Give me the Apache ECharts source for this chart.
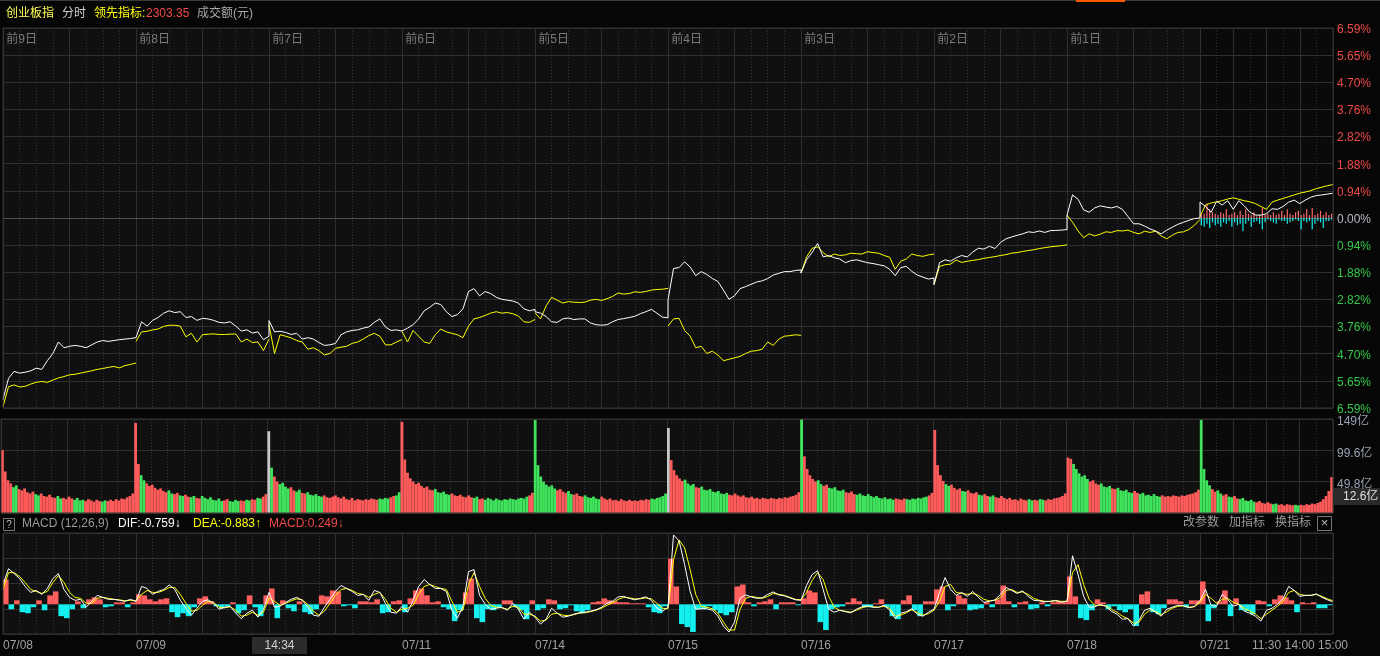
<!DOCTYPE html>
<html>
<head>
<meta charset="utf-8">
<script src="https://cdn.jsdelivr.net/npm/echarts@6.0.0/dist/echarts.min.js"></script>
<style>
html,body{margin:0;padding:0;background:#060606;overflow:hidden;}
#chart{width:1380px;height:656px;}
</style>
</head>
<body>
<div id="chart"></div>
<script>
// ---------------- data ----------------
const dates = ['07/08','07/09','07/10','07/11','07/14','07/15','07/16','07/17','07/18','07/21'];
const dayTags = ['前9日','前8日','前7日','前6日','前5日','前4日','前3日','前2日','前1日',''];
const pctTicks = ['6.59%','5.65%','4.70%','3.76%','2.82%','1.88%','0.94%','0.00%','0.94%','1.88%','2.82%','3.76%','4.70%','5.65%','6.59%'];
const volTicks = ['','49.8亿','99.6亿','149亿'];
const timeTicks = ['11:30','14:00','15:00'];

// index change % (white), one value every 10 minutes, 25 per day
const priceLine = [
[-6.3,-5.56,-5.32,-5.38,-5.35,-5.3,-5.21,-5.25,-4.95,-4.7,-4.3,-4.5,-4.45,-4.42,-4.45,-4.5,-4.4,-4.3,-4.25,-4.28,-4.25,-4.22,-4.2,-4.18,-4.15],
[-4.2,-3.6,-3.75,-3.55,-3.45,-3.3,-3.22,-3.28,-3.25,-3.45,-3.42,-3.55,-3.48,-3.5,-3.55,-3.62,-3.64,-3.6,-3.75,-3.92,-3.88,-3.99,-3.95,-4.22,-4.1],
[-3.56,-3.95,-3.93,-3.97,-4.04,-4.0,-4.2,-4.15,-4.2,-4.32,-4.42,-4.4,-4.35,-4.05,-3.95,-3.9,-3.88,-3.82,-3.78,-3.62,-3.5,-3.78,-3.9,-3.88,-3.92],
[-3.93,-3.82,-3.7,-3.5,-3.22,-3.1,-2.95,-3.0,-3.25,-3.42,-3.35,-3.15,-2.55,-2.45,-2.7,-2.55,-2.62,-2.75,-2.82,-2.85,-2.88,-2.95,-3.15,-3.22,-3.17],
[-3.25,-3.3,-3.42,-3.6,-3.62,-3.5,-3.47,-3.52,-3.5,-3.5,-3.64,-3.7,-3.72,-3.7,-3.6,-3.52,-3.49,-3.45,-3.41,-3.32,-3.25,-3.17,-3.3,-3.44,-3.46],
[-2.84,-1.75,-1.72,-1.52,-1.7,-2.0,-1.86,-1.96,-2.1,-2.2,-2.5,-2.82,-2.7,-2.45,-2.38,-2.3,-2.22,-2.18,-2.1,-1.98,-1.92,-1.86,-1.86,-1.82,-1.8],
[-1.91,-1.45,-1.2,-0.88,-1.35,-1.3,-1.38,-1.42,-1.55,-1.48,-1.45,-1.5,-1.55,-1.58,-1.62,-1.66,-1.78,-2.0,-1.72,-1.68,-1.85,-1.98,-2.05,-2.12,-2.08],
[-2.31,-1.55,-1.45,-1.5,-1.38,-1.3,-1.35,-1.18,-1.05,-1.08,-0.98,-1.06,-0.85,-0.72,-0.66,-0.6,-0.55,-0.48,-0.5,-0.45,-0.5,-0.44,-0.43,-0.42,-0.4],
[0.1,0.8,0.65,0.28,0.2,0.35,0.42,0.38,0.35,0.4,0.3,0.05,-0.2,-0.2,-0.28,-0.38,-0.45,-0.55,-0.42,-0.32,-0.22,-0.15,-0.08,-0.02,0.0],
[0.55,0.4,0.2,0.58,0.45,0.6,0.3,0.6,0.42,0.2,0.1,0.1,0.15,0.32,0.3,0.4,0.55,0.62,0.5,0.62,0.72,0.78,0.8,0.83,0.86]
];

// leading indicator % (yellow), 25 per day
const leadLine = [
[-6.54,-5.85,-5.79,-5.86,-5.84,-5.76,-5.7,-5.67,-5.7,-5.62,-5.55,-5.5,-5.44,-5.42,-5.38,-5.34,-5.3,-5.25,-5.22,-5.18,-5.15,-5.2,-5.12,-5.08,-5.03],
[-4.28,-3.95,-3.93,-3.88,-3.85,-3.76,-3.72,-3.72,-3.75,-4.12,-4.0,-4.3,-4.05,-4.03,-4.02,-4.04,-4.04,-4.03,-4.02,-4.3,-4.2,-4.32,-4.3,-4.6,-4.2],
[-3.7,-4.7,-4.05,-4.1,-4.16,-4.25,-4.3,-4.55,-4.5,-4.6,-4.75,-4.7,-4.52,-4.48,-4.45,-4.35,-4.3,-4.2,-4.08,-4.0,-4.1,-4.4,-4.4,-4.3,-4.22],
[-3.93,-4.3,-3.9,-4.1,-4.3,-4.35,-4.05,-3.85,-3.95,-4.0,-4.05,-4.15,-3.75,-3.5,-3.45,-3.38,-3.3,-3.25,-3.3,-3.28,-3.32,-3.4,-3.6,-3.62,-3.52],
[-3.29,-3.5,-3.05,-2.75,-2.85,-2.95,-2.9,-2.92,-2.93,-2.92,-2.85,-2.82,-2.86,-2.8,-2.72,-2.6,-2.64,-2.62,-2.56,-2.58,-2.55,-2.5,-2.48,-2.47,-2.44],
[-3.75,-3.5,-3.48,-3.9,-4.1,-4.5,-4.45,-4.7,-4.62,-4.75,-4.95,-4.9,-4.85,-4.8,-4.7,-4.62,-4.6,-4.55,-4.3,-4.42,-4.2,-4.1,-4.08,-4.05,-4.07],
[-1.91,-1.35,-1.05,-1.0,-1.2,-1.35,-1.25,-1.3,-1.28,-1.22,-1.24,-1.25,-1.17,-1.2,-1.22,-1.3,-1.36,-1.78,-1.5,-1.42,-1.25,-1.3,-1.33,-1.28,-1.25],
[-2.31,-1.68,-1.62,-1.6,-1.46,-1.54,-1.5,-1.47,-1.44,-1.4,-1.37,-1.34,-1.3,-1.27,-1.22,-1.2,-1.16,-1.13,-1.1,-1.06,-1.03,-1.0,-0.98,-0.96,-0.93],
[0.1,-0.15,-0.45,-0.68,-0.55,-0.62,-0.56,-0.48,-0.5,-0.44,-0.45,-0.42,-0.5,-0.55,-0.46,-0.5,-0.46,-0.62,-0.72,-0.6,-0.5,-0.48,-0.4,-0.25,-0.05],
[0.05,0.45,0.52,0.56,0.6,0.66,0.7,0.65,0.6,0.56,0.5,0.4,0.3,0.55,0.62,0.68,0.74,0.8,0.86,0.9,0.95,1.02,1.07,1.12,1.16]
];

// last day buy / sell bars (% units), one every 5 minutes
const buyBars = [0.1,0.15,0.5,0.3,0.2,0.15,0.1,0.2,0.15,0.3,0.1,0.15,0.2,0.1,0.25,0.1,0.3,0.15,0.1,0.2,0.05,0.1,0.35,0.1,0.15,0.1,0.2,0.1,0.15,0.25,0.1,0.3,0.15,0.1,0.2,0.25,0.1,0.15,0.3,0.1,0.35,0.1,0.15,0.25,0.1,0.2,0.1,0.15];
const sellBars = [-0.25,-0.3,-0.2,-0.35,-0.15,-0.25,-0.2,-0.3,-0.15,-0.2,-0.1,-0.3,-0.15,-0.25,-0.2,-0.45,-0.2,-0.1,-0.3,-0.15,-0.1,-0.2,-0.4,-0.15,-0.05,-0.1,-0.15,-0.2,-0.05,-0.1,-0.1,-0.2,-0.15,-0.1,-0.05,-0.1,-0.4,-0.1,-0.15,-0.1,-0.4,-0.2,-0.1,-0.15,-0.35,-0.1,-0.1,-0.05];

// turnover (亿), one bar per 5 minutes, 48 per day
const volume = [
[100,66,52,47,41,44,38,36,39,33,31,34,30,28,31,27,26,29,25,24,27,23,24,22,26,23,21,24,20,21,19,22,20,18,21,19,18,20,19,21,19,22,20,23,22,25,27,31],
[143,78,60,52,47,43,45,40,37,39,35,33,36,31,30,32,28,27,29,26,25,27,24,23,27,24,22,25,21,20,23,19,20,22,19,18,21,19,20,19,21,20,22,21,24,23,26,30],
[130,72,58,50,46,48,42,39,41,36,34,37,32,31,33,29,28,30,27,26,28,25,24,26,28,25,23,26,22,21,24,20,22,21,20,22,21,23,22,21,23,22,24,23,25,27,28,33],
[145,85,64,55,50,46,48,43,40,42,37,36,38,33,32,34,30,29,31,28,27,29,26,25,28,25,24,26,22,23,21,24,22,20,23,21,20,22,21,23,22,21,23,24,23,26,28,32],
[148,76,58,50,45,42,44,39,36,38,34,32,35,30,29,31,27,26,28,25,24,26,23,22,26,23,21,23,20,21,19,22,20,19,21,19,20,19,21,20,22,21,23,22,24,25,27,31],
[135,84,68,60,55,51,53,47,44,46,41,40,42,37,36,38,34,33,35,31,30,32,29,28,31,28,26,28,25,24,26,23,24,22,24,23,22,24,23,22,24,23,25,24,26,27,29,33],
[149,90,70,60,54,50,52,46,43,45,40,39,41,36,35,37,33,32,34,30,29,31,28,27,30,27,25,27,24,23,25,22,23,21,23,22,21,23,22,21,23,22,24,23,25,26,28,32],
[132,76,60,51,46,43,45,40,37,39,35,34,36,32,31,33,29,28,30,27,26,28,25,24,27,24,22,24,21,22,20,23,21,20,22,20,21,20,22,21,20,22,21,23,24,25,27,31],
[88,86,78,70,63,58,60,54,50,52,47,45,47,42,41,43,39,38,40,36,35,37,33,32,35,32,30,32,28,29,27,30,27,26,28,26,27,26,28,27,26,28,27,29,30,31,33,37],
[148,70,52,44,38,34,36,31,28,30,26,25,27,23,22,24,20,19,21,18,17,19,16,15,17,15,14,15,13,14,12,14,13,12,13,12,13,12,14,13,15,14,16,18,22,27,35,57]
];
// colour of each day's opening bar: r = up, g = down, w = flat
const openColors = ['r','r','w','r','g','w','g','r','r','g'];

// MACD: DIF (white) and DEA (yellow), 25 per day
const dif = [
[2.0,3.6,3.1,2.6,1.8,1.2,1.4,1.0,1.6,2.6,3.1,1.5,0.7,0.4,0.5,-0.3,0.3,0.9,0.7,0.5,0.5,0.4,0.3,0.5,0.3],
[0.3,1.8,1.6,1.0,1.3,1.5,1.95,1.5,0.4,-0.4,-1.1,-0.4,0.3,0.45,0.1,-0.5,-0.3,-0.2,-0.9,-1.45,-0.9,-0.6,-1.3,-0.5,1.2],
[1.2,-0.3,-0.2,0.2,0.5,0.7,0.4,-0.3,-1.1,-1.2,-0.3,0.5,1.3,1.9,1.6,1.3,0.9,1.0,0.4,1.4,1.2,0.1,-0.8,-0.9,-0.2],
[-0.2,-0.8,0.4,1.8,2.5,2.0,1.6,1.6,1.3,-0.6,-1.4,-0.2,3.3,3.5,0.9,0.0,-0.5,-0.4,-0.3,-0.6,0.1,-0.5,-1.5,-0.8,-1.3],
[-1.3,-2.0,-1.5,-0.4,-0.9,-1.3,-1.2,-1.0,-0.85,-0.8,-0.7,-0.55,-0.3,0.1,0.3,0.75,0.8,0.6,0.45,0.6,0.75,0.4,-0.4,-0.7,-0.3],
[-0.3,7.0,6.4,4.0,1.3,-0.5,-0.45,-0.45,-0.6,-1.2,-2.2,-2.8,-1.8,0.6,0.95,0.75,0.6,0.65,1.0,1.25,0.95,0.85,0.65,0.45,0.4],
[0.4,1.9,3.0,3.4,1.5,-0.5,-0.8,-0.6,-0.75,-0.85,-0.5,-0.25,-0.15,-0.3,-0.3,-0.1,-0.6,-1.45,-0.9,-0.75,-0.45,-1.0,-1.2,-0.8,-0.5],
[-0.5,1.2,2.7,1.5,0.9,1.2,0.8,1.3,0.7,0.2,0.3,0.45,1.0,1.7,1.4,1.1,1.35,0.8,0.4,0.35,0.25,0.3,0.4,0.2,0.3],
[0.3,4.9,3.0,0.8,-0.3,-0.25,0.0,-0.2,-0.7,-1.0,-1.5,-1.45,-2.2,-1.6,-0.6,-0.4,-0.8,-1.2,-0.5,-0.3,-0.1,-0.15,-0.35,-0.2,0.4],
[0.4,1.5,-0.1,-0.2,1.0,0.5,-0.2,0.0,-0.7,-0.9,-1.2,-1.7,-0.6,-0.4,0.0,0.6,1.8,1.4,0.8,0.9,0.9,1.05,0.7,0.45,0.25]
];
const dea = [
[1.5,3.2,3.2,2.8,2.2,1.5,1.3,1.1,1.3,2.2,2.9,2.2,1.2,0.7,0.6,0.1,0.1,0.6,0.7,0.6,0.5,0.45,0.35,0.4,0.35],
[0.35,1.0,1.4,1.2,1.2,1.4,1.7,1.7,1.0,0.1,-0.7,-0.6,-0.1,0.3,0.2,-0.3,-0.35,-0.25,-0.6,-1.2,-1.1,-0.8,-1.1,-0.8,0.6],
[0.6,0.3,-0.1,0.1,0.35,0.55,0.45,0.0,-0.7,-1.1,-0.7,0.1,0.9,1.5,1.6,1.4,1.1,1.0,0.7,1.0,1.2,0.5,-0.4,-0.8,-0.5],
[-0.5,-0.4,-0.1,1.0,1.8,2.0,1.8,1.6,1.5,0.3,-0.8,-0.6,2.0,3.2,1.8,0.6,-0.1,-0.3,-0.35,-0.5,-0.2,-0.3,-1.0,-1.0,-1.2],
[-1.2,-1.7,-1.6,-1.0,-0.9,-1.1,-1.15,-1.05,-0.9,-0.85,-0.75,-0.6,-0.4,-0.1,0.15,0.5,0.7,0.65,0.55,0.55,0.65,0.55,0.1,-0.4,-0.45],
[-0.45,4.5,6.5,5.7,3.5,1.0,-0.2,-0.3,-0.45,-0.9,-1.8,-2.6,-2.6,-0.5,0.6,0.8,0.7,0.6,0.8,1.1,1.0,0.9,0.7,0.5,0.45],
[0.45,1.2,2.4,3.2,2.5,0.8,-0.3,-0.6,-0.7,-0.8,-0.6,-0.35,-0.2,-0.25,-0.3,-0.2,-0.4,-1.2,-1.1,-0.85,-0.55,-0.85,-1.1,-0.95,-0.6],
[-0.6,0.3,1.8,2.0,1.2,1.1,1.0,1.1,0.9,0.5,0.35,0.4,0.7,1.4,1.5,1.2,1.25,1.0,0.6,0.4,0.3,0.3,0.35,0.3,0.3],
[0.3,3.2,4.0,2.0,0.5,-0.1,-0.1,-0.15,-0.5,-0.8,-1.2,-1.45,-1.9,-1.8,-1.0,-0.55,-0.7,-1.05,-0.75,-0.4,-0.2,-0.15,-0.3,-0.25,0.2],
[0.2,1.0,0.6,0.1,0.5,0.6,0.2,0.0,-0.4,-0.7,-1.0,-1.45,-1.0,-0.6,-0.2,0.3,1.2,1.4,1.0,0.9,0.9,1.0,0.8,0.55,0.35]
];
// MACD histogram, 24 per day
const macdBars = [
[2.5,-0.5,0.4,-0.8,-0.9,-0.3,0.4,-0.6,0.9,1.3,-1.2,-1.4,-0.5,0.3,-0.4,0.5,0.7,0.5,-0.3,-0.2,0.2,0.2,-0.3,0.2],
[1.0,0.9,0.5,0.3,0.5,0.6,-0.8,-1.3,-0.9,-1.2,-0.3,0.6,0.8,0.3,-0.2,-0.4,-0.2,0.2,-0.9,-0.6,0.9,-0.3,-1.2,0.9],
[1.6,-1.4,0.4,-0.4,-0.7,0.3,-0.8,-1.0,-0.5,0.9,0.8,1.4,1.3,-0.2,-0.1,-0.4,0.3,0.3,0.2,0.5,-0.9,-0.8,0.3,0.4],
[-0.8,0.6,1.4,1.6,0.9,0.2,0.3,-0.3,-0.5,-1.7,-0.6,1.2,2.6,-1.4,-1.8,-0.5,-0.6,-0.3,0.4,0.4,-0.3,-0.6,-1.5,0.4],
[-0.6,-0.4,0.5,0.4,-0.5,-0.4,-0.1,-0.7,-0.9,-0.6,0.2,0.3,0.6,0.4,0.3,0.2,0.2,0.1,0.1,0.1,-0.3,-0.8,-0.9,-0.2],
[4.6,1.8,-2.0,-2.3,-2.8,-0.5,-0.5,-0.2,-0.6,-0.9,-1.1,-0.8,1.8,2.0,0.2,-0.2,0.2,0.3,0.5,-0.5,0.2,0.2,0.2,-0.1],
[0.6,1.4,1.2,-1.8,-2.6,-0.5,-0.3,-0.2,0.2,0.6,0.3,-0.3,-0.3,0.1,0.5,-0.3,-1.2,-1.5,0.4,0.9,-0.6,-1.2,0.3,0.3],
[1.5,1.8,-0.6,-0.2,0.9,0.6,-0.6,-0.5,-0.4,0.2,-0.3,0.5,1.9,0.3,-0.3,0.2,0.3,-0.5,-0.4,0.2,-0.2,0.2,0.3,0.2],
[2.8,0.8,-1.4,-1.6,-0.6,0.5,0.2,-0.5,-0.2,-0.6,-0.8,-0.5,-2.2,1.0,1.3,-0.8,-1.0,-0.4,0.5,0.5,0.3,-0.3,0.4,0.4],
[2.3,-1.7,-0.4,0.3,1.4,-1.2,0.6,-0.6,-0.7,-1.0,0.4,0.3,-0.2,0.5,0.9,0.7,0.4,-0.8,0.2,0.1,0.2,-0.4,-0.4,-0.1]
];

// ---------------- build ----------------
const DAY = 240, STEP = 10, VSTEP = 5, TOTAL = 2400, LAST = 9 * 240;
const RED = '#ff5b5b', GREEN = '#3fe35c', CYAN = '#14f0f0', FLAT = '#c8c8c8';
const GRID_SOLID = '#2f2f2f', GRID_DOT = '#333333';
const PANEL_BG = '#101010', LAST_BG = '#0a0a0a';
const FONT = '"Liberation Sans","Noto Sans CJK SC",sans-serif';

function linePts(days, withGaps) {
  const out = [];
  days.forEach((arr, d) => {
    arr.forEach((v, i) => out.push([d * DAY + i * STEP, v]));
    if (withGaps) out.push([d * DAY + DAY, '-']);
  });
  return out;
}
function barPts(days, step) {
  const out = [];
  days.forEach((arr, d) => arr.forEach((v, i) => out.push([d * DAY + step / 2 + i * step, v])));
  return out;
}
const whitePts = linePts(priceLine, false);
const yellowPts = linePts(leadLine, true);
const difPts = linePts(dif, false);
const deaPts = linePts(dea, false);
const volPts = barPts(volume, VSTEP);
const histPts = barPts(macdBars, STEP);
const buyPts = buyBars.map((v, i) => [LAST + 2.5 + i * 5, v]);
const sellPts = sellBars.map((v, i) => [LAST + 2.5 + i * 5, v]);
const dayStarts = dates.map((_, d) => d * DAY);
const perDay = volume[0].length;

function volColor(p) {
  const d = Math.floor(p.dataIndex / perDay), j = p.dataIndex % perDay;
  if (j === 0) return openColors[d] === 'r' ? RED : (openColors[d] === 'g' ? GREEN : FLAT);
  const k = Math.floor(j * VSTEP / STEP);
  return priceLine[d][k + 1] >= priceLine[d][k] ? RED : GREEN;
}

function dotAxis(g) {
  return { gridIndex: g, type: 'value', min: 0, max: TOTAL, interval: 30, z: 2,
    axisLine: { show: false }, axisTick: { show: false }, axisLabel: { show: false },
    splitLine: { show: true, lineStyle: { color: GRID_DOT, type: [1, 2], width: 1 } } };
}
function solidAxis(g, extra) {
  return Object.assign({ gridIndex: g, type: 'value', min: 0, max: TOTAL, interval: 120, z: 2,
    axisLine: { show: false }, axisTick: { show: false }, axisLabel: { show: false },
    splitLine: { show: true, lineStyle: { color: GRID_SOLID, width: 1 } } }, extra || {});
}
// panel backgrounds (earlier days lighter, current day darker) and the hourly lines of the current day
function bgSeries(xi, yi, withZero) {
  const ml = [{ xAxis: LAST + 60 }, { xAxis: LAST + 180 }];
  if (withZero) ml.push({ yAxis: 0, lineStyle: { color: '#505050' } });
  return { type: 'scatter', xAxisIndex: xi, yAxisIndex: yi, data: [], z: 1, silent: true,
    markArea: { silent: true, z: 1, data: [
      [{ xAxis: 0, itemStyle: { color: PANEL_BG } }, { xAxis: LAST }],
      [{ xAxis: LAST, itemStyle: { color: LAST_BG } }, { xAxis: TOTAL }] ] },
    markLine: { silent: true, symbol: 'none', z: 2, label: { show: false }, lineStyle: { color: GRID_SOLID, type: 'solid', width: 1 }, data: ml } };
}
const rich = pad => ({ t: { padding: [pad, 0, 0, 0], fontSize: 12, fontFamily: FONT } });

const chart = echarts.init(document.getElementById('chart'), null, { renderer: 'canvas' });
const option = {
  backgroundColor: '#060606',
  animation: false,
  textStyle: { fontFamily: FONT },
  grid: [
    { left: 1, top: 28, width: 1332, height: 380, show: true, z: 6, backgroundColor: 'transparent', borderColor: '#333', borderWidth: 1 },
    { left: 1, top: 419, width: 1332, height: 94, show: true, z: 6, backgroundColor: 'transparent', borderColor: '#333', borderWidth: 1 },
    { left: 1, top: 533, width: 1332, height: 101, show: true, z: 6, backgroundColor: 'transparent', borderColor: '#333', borderWidth: 1 }
  ],
  xAxis: [
    dotAxis(0),
    solidAxis(0, { position: 'top', axisLabel: { show: true, inside: true, customValues: dayStarts.slice(0, 9), align: 'left', margin: 6,
      color: '#7a7a7a', fontSize: 12, fontFamily: FONT, formatter: v => ' ' + dayTags[Math.round(v / DAY)] } }),
    dotAxis(1),
    solidAxis(1),
    dotAxis(2),
    solidAxis(2, { position: 'bottom', axisLabel: { show: true, customValues: dayStarts.filter((_, d) => d !== 2), align: 'left', margin: 6,
      color: '#a0a0a0', fontSize: 12, fontFamily: FONT, formatter: v => dates[Math.round(v / DAY)] } }),
    { gridIndex: 2, type: 'value', min: 0, max: TOTAL, position: 'bottom', axisLine: { show: false }, axisTick: { show: false }, splitLine: { show: false },
      axisLabel: { show: true, customValues: [LAST + 120, LAST + 180, TOTAL], align: 'center', margin: 6, color: '#a0a0a0', fontSize: 12, fontFamily: FONT,
        formatter: v => timeTicks[Math.round((v - LAST) / 60) - 2] } }
  ],
  yAxis: [
    { gridIndex: 0, type: 'value', min: -7, max: 7, interval: 1, position: 'right', z: 2,
      axisLine: { show: false }, axisTick: { show: false },
      axisLabel: { margin: 4, fontSize: 12, fontFamily: FONT, rich: rich(3), formatter: v => '{t|' + pctTicks[7 - Math.round(v)] + '}',
        color: v => (v > 0 ? '#f04a4a' : (v < 0 ? '#35c84a' : '#b8bccb')) },
      splitLine: { lineStyle: { color: GRID_SOLID } } },
    { gridIndex: 0, type: 'value', min: -6.59, max: 6.59, show: false, splitLine: { show: false } },
    { gridIndex: 1, type: 'value', min: 0, max: 149.4, interval: 49.8, position: 'right', z: 2,
      axisLine: { show: false }, axisTick: { show: false },
      axisLabel: { margin: 4, fontSize: 12, fontFamily: FONT, color: '#9aa2b4', rich: rich(6),
        formatter: v => { const s = volTicks[Math.round(v / 49.8)]; return s ? '{t|' + s + '}' : ''; } },
      splitLine: { lineStyle: { color: GRID_SOLID } } },
    { gridIndex: 2, type: 'value', min: 0, max: 4, interval: 1, z: 2, axisLine: { show: false }, axisTick: { show: false }, axisLabel: { show: false },
      splitLine: { lineStyle: { color: GRID_SOLID } } },
    { gridIndex: 2, type: 'value', min: -3.0, max: 7.2, show: false, splitLine: { show: false } }
  ],
  series: [
    bgSeries(0, 1, true),
    { name: 'buy', type: 'bar', xAxisIndex: 0, yAxisIndex: 1, data: buyPts, barWidth: 1.2, barGap: '-100%', z: 3,
      itemStyle: { color: '#ff6a6a' } },
    { name: 'sell', type: 'bar', xAxisIndex: 0, yAxisIndex: 1, data: sellPts, barWidth: 1.2, barGap: '-100%', z: 3,
      itemStyle: { color: CYAN } },
    { name: '领先指标', type: 'line', xAxisIndex: 0, yAxisIndex: 1, data: yellowPts, showSymbol: false, connectNulls: false, z: 4,
      lineStyle: { color: '#ffff00', width: 1 } },
    { name: '创业板指', type: 'line', xAxisIndex: 0, yAxisIndex: 1, data: whitePts, showSymbol: false, z: 5,
      lineStyle: { color: '#ffffff', width: 1 } },

    bgSeries(2, 2, false),
    { name: '成交额', type: 'bar', xAxisIndex: 2, yAxisIndex: 2, data: volPts, barWidth: 2.8, z: 3,
      itemStyle: { color: volColor } },

    bgSeries(4, 4, false),
    { name: 'MACD', type: 'bar', xAxisIndex: 4, yAxisIndex: 4, data: histPts, barWidth: 5.6, z: 3,
      itemStyle: { color: p => (p.value[1] >= 0 ? '#ff5f5f' : CYAN) } },
    { name: 'DEA', type: 'line', xAxisIndex: 4, yAxisIndex: 4, data: deaPts, showSymbol: false, z: 4,
      lineStyle: { color: '#ffff00', width: 1 } },
    { name: 'DIF', type: 'line', xAxisIndex: 4, yAxisIndex: 4, data: difPts, showSymbol: false, z: 5,
      lineStyle: { color: '#ffffff', width: 1 } }
  ],
  graphic: [
    { type: 'rect', x: 0, y: 0, shape: { width: 1380, height: 1 }, style: { fill: '#3a3a3a' }, silent: true },
    { type: 'rect', x: 1076, y: 0, shape: { width: 49, height: 2 }, style: { fill: '#ff5a00' }, silent: true },
    { type: 'text', x: 6, y: 14, style: { text: '创业板指', fill: '#ffff55', font: '12px ' + FONT, verticalAlign: 'middle' } },
    { type: 'text', x: 62, y: 14, style: { text: '分时', fill: '#cfcfcf', font: '12px ' + FONT, verticalAlign: 'middle' } },
    { type: 'text', x: 94, y: 14, style: { text: '领先指标:', fill: '#ffff00', font: '12px ' + FONT, verticalAlign: 'middle' } },
    { type: 'text', x: 146, y: 14, style: { text: '2303.35', fill: '#f04a4a', font: '12px ' + FONT, verticalAlign: 'middle' } },
    { type: 'text', x: 197, y: 14, style: { text: '成交额(元)', fill: '#a8a8a8', font: '12px ' + FONT, verticalAlign: 'middle' } },

    { type: 'rect', x: 1334, y: 488, shape: { width: 46, height: 17 }, style: { fill: '#2a2a2a' }, silent: true },
    { type: 'text', x: 1343, y: 497, style: { text: '12.6亿', fill: '#e0e0e0', font: '12px ' + FONT, verticalAlign: 'middle' } },

    { type: 'rect', x: 3.5, y: 518.5, shape: { width: 11, height: 12 }, style: { fill: 'none', stroke: '#777', lineWidth: 1 }, silent: true },
    { type: 'text', x: 9, y: 525, style: { text: '?', fill: '#bbb', font: '10px ' + FONT, align: 'center', verticalAlign: 'middle' } },
    { type: 'text', x: 22, y: 524, style: { text: 'MACD (12,26,9)', fill: '#9a9a9a', font: '12px ' + FONT, verticalAlign: 'middle' } },
    { type: 'text', x: 118, y: 524, style: { text: 'DIF:-0.759↓', fill: '#ffffff', font: '12px ' + FONT, verticalAlign: 'middle' } },
    { type: 'text', x: 193, y: 524, style: { text: 'DEA:-0.883↑', fill: '#ffff00', font: '12px ' + FONT, verticalAlign: 'middle' } },
    { type: 'text', x: 269, y: 524, style: { text: 'MACD:0.249↓', fill: '#f04a4a', font: '12px ' + FONT, verticalAlign: 'middle' } },
    { type: 'text', x: 1183, y: 523, style: { text: '改参数', fill: '#9a9a9a', font: '12px ' + FONT, verticalAlign: 'middle' } },
    { type: 'text', x: 1229, y: 523, style: { text: '加指标', fill: '#9a9a9a', font: '12px ' + FONT, verticalAlign: 'middle' } },
    { type: 'text', x: 1275, y: 523, style: { text: '换指标', fill: '#9a9a9a', font: '12px ' + FONT, verticalAlign: 'middle' } },
    { type: 'rect', x: 1317.5, y: 516.5, shape: { width: 14, height: 14 }, style: { fill: 'none', stroke: '#777', lineWidth: 1 }, silent: true },
    { type: 'text', x: 1324.5, y: 523.5, style: { text: '×', fill: '#bbb', font: '13px ' + FONT, align: 'center', verticalAlign: 'middle' } },

    { type: 'rect', x: 252, y: 637, shape: { width: 55, height: 17 }, style: { fill: '#2c2c2c' }, silent: true },
    { type: 'text', x: 279.5, y: 645.5, style: { text: '14:34', fill: '#d0d0d0', font: '12px ' + FONT, align: 'center', verticalAlign: 'middle' } }
  ]
};
chart.setOption(option);
</script>
</body>
</html>
